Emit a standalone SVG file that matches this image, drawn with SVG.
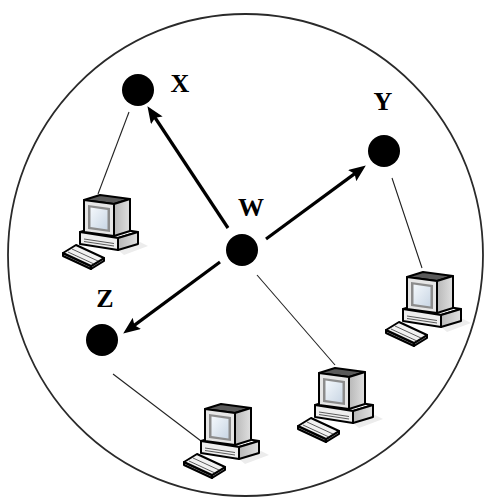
<svg xmlns="http://www.w3.org/2000/svg" xmlns:xlink="http://www.w3.org/1999/xlink" width="485" height="498" viewBox="0 0 485 498">
  <style>
    .ring { fill: none; stroke: #2a2a2a; stroke-width: 1.8; }
    .node { fill: #000; }
    .label { font-family: "Liberation Serif", "Times New Roman", serif; font-weight: bold; font-size: 26px; fill: #000; text-anchor: middle; }
    .arrow { stroke: #000; stroke-width: 3.2; fill: none; }
    .link { stroke: #222; stroke-width: 1.1; fill: none; }
    .pc-edge { stroke: #000; stroke-width: 2; stroke-linejoin: round; }
    .pc-thin { stroke: #333; stroke-width: 0.8; fill: none; }
  </style>
  <defs>
    <marker id="head" markerUnits="userSpaceOnUse" markerWidth="18" markerHeight="14" refX="10" refY="7" orient="auto">
      <path d="M0,0 L17,7 L0,14 L3,7 z" fill="#000"/>
    </marker>
    <linearGradient id="sideShade" x1="0" y1="0" x2="1" y2="0">
      <stop offset="0" stop-color="#b8b8b8"/>
      <stop offset="1" stop-color="#e0e0e0"/>
    </linearGradient>
    <linearGradient id="screenShade" x1="0" y1="0" x2="1" y2="1">
      <stop offset="0" stop-color="#f4f8fc"/>
      <stop offset="1" stop-color="#c9d6e4"/>
    </linearGradient>
    <!-- desktop computer: case, CRT monitor and keyboard -->
    <g id="pc">
      <!-- soft floor shadow -->
      <polygon points="56,54 78,46 86,50 62,59" fill="#ececec"/>
      <!-- case -->
      <polygon class="pc-edge" points="18,36 56,42 76,36 38,30" fill="#ffffff"/>
      <polygon class="pc-edge" points="56,42 76,36 76,48 56,54" fill="url(#sideShade)"/>
      <polygon class="pc-edge" points="18,36 56,42 56,54 18,48" fill="#eeeeee"/>
      <line class="pc-thin" x1="22" y1="43" x2="52" y2="47.5"/>
      <line class="pc-thin" x1="22" y1="45.5" x2="52" y2="50"/>
      <!-- monitor -->
      <polygon class="pc-edge" points="22,4 52,8 68,3 38,-1" fill="#5a5a5a"/>
      <polygon class="pc-edge" points="52,8 68,3 68,35 52,40" fill="url(#sideShade)"/>
      <polygon class="pc-edge" points="22,4 52,8 52,40 22,36" fill="#e6e6e6"/>
      <polygon points="26,9 48,12 48,36 26,33" fill="#8c8c8c"/>
      <polygon points="28.5,11.5 45.5,14 45.5,33.5 28.5,31" fill="url(#screenShade)"/>
      <!-- keyboard -->
      <polygon class="pc-edge" points="1,57 29,70 29,73 1,60" fill="#999"/>
      <polygon class="pc-edge" points="29,70 42,62 42,65 29,73" fill="#777"/>
      <polygon class="pc-edge" points="1,57 14,49 42,62 29,70" fill="#f2f2f2"/>
      <line class="pc-thin" x1="6" y1="56" x2="32" y2="68" stroke="#bbb"/>
      <line class="pc-thin" x1="10" y1="53" x2="36" y2="65" stroke="#bbb"/>
    </g>
  </defs>

  <rect width="485" height="498" fill="#ffffff"/>

  <!-- network boundary -->
  <ellipse class="ring" cx="245.5" cy="255" rx="237.5" ry="241"/>

  <!-- connectors -->
  <g id="connectors">
    <line class="link" x1="129" y1="112" x2="98" y2="194"/>
    <line class="link" x1="392" y1="178" x2="422" y2="268"/>
    <line class="link" x1="257" y1="275" x2="335" y2="365"/>
    <line class="link" x1="113" y1="374" x2="201" y2="441"/>
    <line class="arrow" x1="228" y1="228" x2="151.3" y2="112" marker-end="url(#head)"/>
    <line class="arrow" x1="266" y1="239" x2="360.2" y2="169.6" marker-end="url(#head)"/>
    <line class="arrow" x1="220" y1="262" x2="128.8" y2="329.4" marker-end="url(#head)"/>
  </g>

  <!-- nodes -->
  <g id="node-W">
    <circle class="node" cx="242" cy="250" r="16"/>
    <text class="label" x="251" y="216">W</text>
  </g>
  <g id="node-X">
    <circle class="node" cx="138" cy="90" r="16"/>
    <text class="label" x="180" y="92">X</text>
  </g>
  <g id="node-Y">
    <circle class="node" cx="384" cy="151" r="16"/>
    <text class="label" x="383" y="110">Y</text>
  </g>
  <g id="node-Z">
    <circle class="node" cx="102" cy="340" r="16"/>
    <text class="label" x="105" y="307">Z</text>
  </g>

  <!-- hosts -->
  <g id="host-left"><use xlink:href="#pc" transform="translate(62,196)"/></g>
  <g id="host-right"><use xlink:href="#pc" transform="translate(385,273)"/></g>
  <g id="host-center"><use xlink:href="#pc" transform="translate(297,369)"/></g>
  <g id="host-bottom"><use xlink:href="#pc" transform="translate(183,405)"/></g>
</svg>
